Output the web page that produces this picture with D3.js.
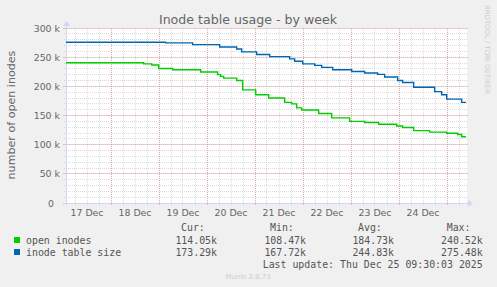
<!DOCTYPE html>
<html>
<head>
<meta charset="utf-8">
<script src="https://cdn.jsdelivr.net/npm/d3@7/dist/d3.min.js"></script>
<style>
    body { margin: 0; background: #f0f0f0; }
    svg text { font-family: "DejaVu Sans", sans-serif; fill: #666666; }
    svg text.mono { font-family: "DejaVu Sans Mono", monospace; fill: #555555; }
</style>
</head>
<body>
<svg id="chart" width="497" height="287"></svg>
<script>
/**
 * Chart data
 */
var startTime = "2025-12-17T01:30";
var endTime = "2025-12-25T09:30";

// open inodes, step changes
var openTimes = ["2025-12-17T01:30", "2025-12-18T16:20", "2025-12-18T20:20", "2025-12-18T23:50",
    "2025-12-19T06:50", "2025-12-19T20:50", "2025-12-20T05:20", "2025-12-20T06:50", "2025-12-20T08:20",
    "2025-12-20T14:50", "2025-12-20T17:50", "2025-12-21T00:20", "2025-12-21T06:50", "2025-12-21T14:50",
    "2025-12-21T18:20", "2025-12-21T20:50", "2025-12-21T23:20", "2025-12-22T07:50", "2025-12-22T14:20",
    "2025-12-22T23:20", "2025-12-23T06:50", "2025-12-23T13:50", "2025-12-23T22:50", "2025-12-24T01:50",
    "2025-12-24T07:20", "2025-12-24T15:20", "2025-12-24T23:50", "2025-12-25T05:20", "2025-12-25T07:20"];
var openValues = [240500, 238500, 236500, 230500,
    228500, 224500, 220000, 217000, 214000,
    210000, 194000, 185500, 180000, 172500,
    170000, 163000, 159500, 153500, 146000,
    140000, 138000, 135000, 132000, 129500,
    124000, 121500, 119500, 117500, 113500];

// inode table size, step changes
var sizeTimes = ["2025-12-17T01:30", "2025-12-19T03:20", "2025-12-19T16:50", "2025-12-20T06:20",
    "2025-12-20T14:50", "2025-12-20T17:20", "2025-12-21T00:50", "2025-12-21T07:20", "2025-12-21T17:20",
    "2025-12-21T19:50", "2025-12-21T23:50", "2025-12-22T05:50", "2025-12-22T09:20", "2025-12-22T14:50",
    "2025-12-23T00:20", "2025-12-23T06:50", "2025-12-23T13:20", "2025-12-23T16:50", "2025-12-23T23:20",
    "2025-12-24T01:50", "2025-12-24T07:20", "2025-12-24T17:50", "2025-12-24T21:20", "2025-12-24T23:50",
    "2025-12-25T07:20"];
var sizeValues = [275500, 274500, 271500, 267500,
    264000, 259000, 254500, 251000, 247000,
    243000, 238500, 236000, 232500, 228500,
    225500, 222800, 220500, 216000, 210000,
    206500, 198500, 191000, 185500, 178000,
    172500];

// legend
var seriesNames = ["open inodes", "inode table size"];
var seriesColors = ["#00cc00", "#0066b3"];
var curValues = ["114.05k", "173.29k"];
var minValues = ["108.47k", "167.72k"];
var avgValues = ["184.73k", "244.83k"];
var maxValues = ["240.52k", "275.48k"];
var lastUpdate = "Last update: Thu Dec 25 09:30:03 2025";

/**
 * Do the following when the browser window loads
 */
window.onload = function(){
    drawChart();
};

function drawChart(){
    let svg = d3.select("#chart");
    let parse = d3.timeParse("%Y-%m-%dT%H:%M");

    // munin graph area is 400 x 175
    let left = 66, top = 28, width = 400, height = 175;
    let axisColor = "#cfd6f8";
    let minorColor = "rgba(150,150,150,0.35)";
    let majorColor = "rgba(225,110,110,0.45)";

    let xScale = d3.scaleTime()
        .domain([parse(startTime), parse(endTime)])
        .range([left, left + width]);
    let yScale = d3.scaleLinear()
        .domain([0, 300000])
        .range([top + height, top]);

    // crisp 1px lines
    let px = function(v){ return Math.floor(v) + 0.5; };

    // canvas
    svg.append("rect")
        .attr("x", left).attr("y", top)
        .attr("width", width + 1).attr("height", height)
        .style("fill", "#ffffff");

    // minor grid
    let minorX = d3.timeHour.every(6).range(parse(startTime), parse(endTime));
    svg.append("g").selectAll("line")
        .data(minorX)
        .enter()
        .append("line")
        .attr("x1", function(d){ return px(xScale(d)); })
        .attr("x2", function(d){ return px(xScale(d)); })
        .attr("y1", top)
        .attr("y2", top + height + 2)
        .style("stroke", minorColor)
        .style("stroke-dasharray", "1,1");

    svg.append("g").selectAll("line")
        .data(yScale.ticks(30))
        .enter()
        .append("line")
        .attr("x1", left - 2)
        .attr("x2", left + width + 2)
        .attr("y1", function(d){ return px(yScale(d)); })
        .attr("y2", function(d){ return px(yScale(d)); })
        .style("stroke", minorColor)
        .style("stroke-dasharray", "1,1");

    // major grid
    let majorX = d3.timeDay.range(parse(startTime), parse(endTime));
    svg.append("g").selectAll("line")
        .data(majorX)
        .enter()
        .append("line")
        .attr("x1", function(d){ return px(xScale(d)); })
        .attr("x2", function(d){ return px(xScale(d)); })
        .attr("y1", top)
        .attr("y2", top + height + 3)
        .style("stroke", majorColor)
        .style("stroke-dasharray", "1,1");

    svg.append("g").selectAll("line")
        .data(yScale.ticks(6))
        .enter()
        .append("line")
        .attr("x1", left - 3)
        .attr("x2", left + width + 2)
        .attr("y1", function(d){ return px(yScale(d)); })
        .attr("y2", function(d){ return px(yScale(d)); })
        .style("stroke", majorColor)
        .style("stroke-dasharray", "1,1");

    // y tick labels
    svg.append("g").selectAll("text")
        .data(yScale.ticks(6))
        .enter()
        .append("text")
        .attr("x", function(d){ return d === 0 ? 54 : 60; })
        .attr("y", function(d){ return yScale(d) + 3.5; })
        .attr("text-anchor", "end")
        .style("font-size", "9.4px")
        .text(function(d){ return d === 0 ? "0" : (d / 1000) + " k"; });

    // x tick labels at noon
    let noons = majorX.map(function(d){ return d3.timeHour.offset(d, 12); })
        .concat([d3.timeHour.offset(d3.timeDay.floor(parse(startTime)), 12)])
        .filter(function(d){ return xScale(d) > left + 10 && xScale(d) < left + width - 10; });
    svg.append("g").selectAll("text")
        .data(noons)
        .enter()
        .append("text")
        .attr("x", function(d){ return xScale(d); })
        .attr("y", 216)
        .attr("text-anchor", "middle")
        .style("font-size", "9.4px")
        .text(d3.timeFormat("%d %b"));

    // axes
    svg.append("line")
        .attr("x1", left - 2).attr("x2", left + width + 3)
        .attr("y1", px(top + height)).attr("y2", px(top + height))
        .style("stroke", axisColor);
    svg.append("line")
        .attr("x1", px(left)).attr("x2", px(left))
        .attr("y1", top + height + 2).attr("y2", top - 4)
        .style("stroke", axisColor);
    svg.append("path")
        .attr("d", `M${left + width + 2},${top + height - 3}L${left + width + 7},${top + height + 0.5}L${left + width + 2},${top + height + 4}Z`)
        .style("fill", axisColor);
    svg.append("path")
        .attr("d", `M${left - 3},${top - 2}L${left + 0.5},${top - 7}L${left + 4},${top - 2}Z`)
        .style("fill", axisColor);

    // series
    let line = d3.line()
        .curve(d3.curveStepAfter)
        .x(function(d){ return xScale(d[0]); })
        .y(function(d){ return yScale(d[1]); });

    let series = [[openTimes, openValues], [sizeTimes, sizeValues]];
    series.forEach(function(s, i){
        let pts = s[0].map(function(t, j){ return [parse(t), s[1][j]]; });
        pts.push([parse(endTime), s[1][s[1].length - 1]]);
        svg.append("path")
            .attr("d", line(pts))
            .style("fill", "none")
            .style("stroke", seriesColors[i])
            .style("stroke-width", 1.4);
    });

    // title and labels
    svg.append("text")
        .attr("x", 248).attr("y", 24)
        .attr("text-anchor", "middle")
        .style("font-size", "12.6px")
        .text("Inode table usage - by week");

    svg.append("text")
        .attr("transform", "translate(15,115) rotate(-90)")
        .attr("text-anchor", "middle")
        .style("font-size", "11.1px")
        .text("number of open inodes");

    svg.append("text")
        .attr("transform", "translate(484.5,5) rotate(90)")
        .style("font-size", "6.9px")
        .style("fill", "#cccccc")
        .text("RRDTOOL / TOBI OETIKER");

    svg.append("text")
        .attr("x", 248).attr("y", 279)
        .attr("text-anchor", "middle")
        .style("font-size", "6.9px")
        .style("fill", "#cccccc")
        .text("Munin 2.0.73");

    drawLegend(svg);
}

function drawLegend(svg){
    let headers = [["Cur:", 181], ["Min:", 270], ["Avg:", 358], ["Max:", 446.7]];
    headers.forEach(function(h){
        svg.append("text").attr("class", "mono")
            .attr("x", h[1]).attr("y", 231)
            .style("font-size", "9.9px")
            .text(h[0]);
    });

    let columns = [[curValues, 217], [minValues, 306], [avgValues, 394], [maxValues, 482.7]];
    seriesNames.forEach(function(name, i){
        let y = 243.5 + i * 12;
        svg.append("rect")
            .attr("x", 14).attr("y", y - 6.5)
            .attr("width", 6).attr("height", 6)
            .style("fill", seriesColors[i]);
        svg.append("text").attr("class", "mono")
            .attr("x", 26).attr("y", y)
            .style("font-size", "9.9px")
            .text(name);
        columns.forEach(function(c){
            svg.append("text").attr("class", "mono")
                .attr("x", c[1]).attr("y", y)
                .attr("text-anchor", "end")
                .style("font-size", "9.9px")
                .text(c[0][i]);
        });
    });

    svg.append("text").attr("class", "mono")
        .attr("x", 482.7).attr("y", 267.5)
        .attr("text-anchor", "end")
        .style("font-size", "9.9px")
        .text(lastUpdate);
}
</script>
</body>
</html>
